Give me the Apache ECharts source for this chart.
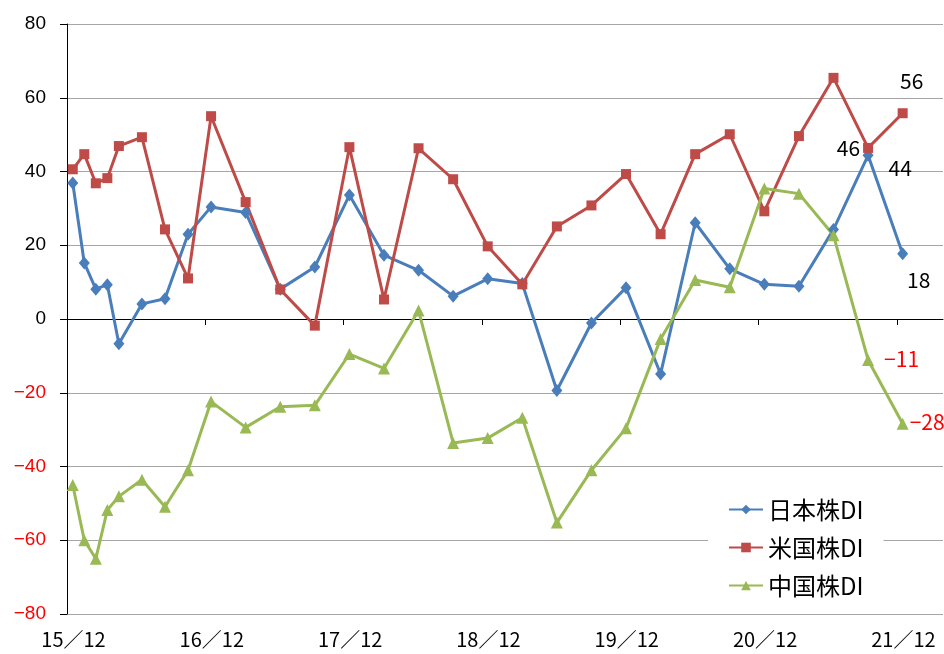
<!DOCTYPE html>
<html>
<head>
<meta charset="utf-8">
<script src="https://cdn.jsdelivr.net/npm/echarts@6/dist/echarts.min.js"></script>
<style>
html,body{margin:0;padding:0;background:#fff;}
#chart{width:944px;height:654px;}
</style>
</head>
<body>
<div id="chart"></div>
<script>
// Months since Dec 2015 for each observation
const months = [0,1,2,3,4,6,8,10,12,15,18,21,24,27,30,33,36,39,42,45,48,51,54,57,60,63,66,69,72];
const japan = [36.9,15.2,8.1,9.3,-6.7,4.1,5.5,23,30.4,28.9,8.1,14.1,33.6,17.3,13.2,6.2,10.9,9.6,-19.4,-1.1,8.5,-14.9,26.1,13.6,9.4,8.9,24.3,44.4,17.7];
const usa   = [40.6,44.7,36.8,38.2,46.9,49.3,24.3,11,55,31.7,8,-1.8,46.6,5.3,46.3,37.9,19.7,9.4,25.1,30.8,39.3,23,44.7,50.1,29.2,49.6,65.4,46.4,55.8];
const china = [-45,-60,-65,-51.8,-48.1,-43.6,-50.9,-41,-22.4,-29.4,-23.8,-23.4,-9.5,-13.4,2.3,-33.6,-32.3,-26.8,-55.2,-41,-29.6,-5.4,10.6,8.6,35.4,34,22.7,-11.1,-28.4];
const xTickMonths = [0,12,24,36,48,60,72];
const xTickLabels = ['15／12','16／12','17／12','18／12','19／12','20／12','21／12'];
const seriesNames = ['日本株DI','米国株DI','中国株DI'];

const CJK = '"Noto Sans CJK JP", sans-serif';
const minus = v => (v < 0 ? '−' + Math.abs(v) : String(v));

function build(values, labels) {
  return values.map((v, i) => {
    const item = { value: [months[i] + 0.5, v] };
    if (labels[i]) item.label = Object.assign({ show: true, formatter: labels[i].text }, labels[i].style);
    return item;
  });
}
const n = months.length;
const lblBase = { fontFamily: CJK, fontSize: 21, color: '#000' };
const japanLabels = {};
japanLabels[n - 2] = { text: String(Math.round(japan[n - 2])), style: Object.assign({}, lblBase, { position: 'right', offset: [10, 13] }) };
japanLabels[n - 1] = { text: String(Math.round(japan[n - 1])), style: Object.assign({}, lblBase, { position: 'bottom', offset: [16, 4] }) };
const usaLabels = {};
usaLabels[n - 2] = { text: String(Math.round(usa[n - 2])), style: Object.assign({}, lblBase, { position: 'left', distance: 3 }) };
usaLabels[n - 1] = { text: String(Math.round(usa[n - 1])), style: Object.assign({}, lblBase, { position: 'top', offset: [9, -12] }) };
const chinaLabels = {};
chinaLabels[n - 2] = { text: minus(Math.round(china[n - 2])), style: Object.assign({}, lblBase, { color: '#ff0000', position: 'right', offset: [5, -1] }) };
chinaLabels[n - 1] = { text: minus(Math.round(china[n - 1])), style: Object.assign({}, lblBase, { color: '#ff0000', position: 'right', offset: [-4, -2] }) };

const colors = ['#4A7EBB', '#BE4B48', '#98B954'];
const symbols = ['diamond', 'rect', 'triangle'];
const sizes = [[11, 13], 10, 12];
const datas = [build(japan, japanLabels), build(usa, usaLabels), build(china, chinaLabels)];

const xLabelFmt = v => { const k = xTickMonths.indexOf(v); return k >= 0 ? xTickLabels[k] : ''; };

const chart = echarts.init(document.getElementById('chart'));
chart.setOption({
  animation: false,
  color: colors,
  grid: { left: 67, right: 1, top: 24, bottom: 40, containLabel: false, outerBoundsMode: 'none' },
  xAxis: [{
    type: 'value', min: 0, max: 76, interval: 12, position: 'bottom',
    axisLine: { show: false, onZero: false },
    axisTick: { show: false },
    axisLabel: {
      customValues: xTickMonths, formatter: xLabelFmt,
      margin: 15, fontFamily: CJK, fontSize: 20, color: '#000', padding: [0, 0, 0, 13]
    },
    splitLine: { show: false }
  }, {
    type: 'value', min: 0, max: 76, interval: 12, position: 'bottom',
    axisLine: { show: true, onZero: true, lineStyle: { color: '#000', width: 1 } },
    axisTick: { show: true, length: 6, lineStyle: { color: '#000' }, customValues: xTickMonths },
    axisLabel: { show: false },
    splitLine: { show: false }
  }],
  yAxis: {
    type: 'value', min: -80, max: 80, interval: 20,
    axisLine: { show: true, onZero: false, lineStyle: { color: '#000', width: 1 } },
    axisTick: { show: true, length: 7, lineStyle: { color: '#000' } },
    axisLabel: {
      margin: 21, fontFamily: '"Liberation Sans", Arial, sans-serif', fontSize: 19,
      formatter: v => minus(v),
      color: v => (Number(v) < 0 ? '#ff0000' : '#000')
    },
    splitLine: { show: true, lineStyle: { color: '#a6a6a6', width: 1.2 } }
  },
  legend: {
    orient: 'vertical', left: 708, top: 487, padding: [10, 20, 10, 20],
    backgroundColor: '#fff', itemWidth: 34, itemHeight: 12, itemGap: 13,
    textStyle: { fontFamily: CJK, fontSize: 24, color: '#000', lineHeight: 25 },
    data: seriesNames
  },
  series: seriesNames.map((name, i) => ({
    name, type: 'line', data: datas[i],
    symbol: symbols[i], symbolSize: sizes[i],
    lineStyle: { width: 3, color: colors[i] },
    itemStyle: { color: colors[i] },
    label: { show: false }
  }))
});
</script>
</body>
</html>
